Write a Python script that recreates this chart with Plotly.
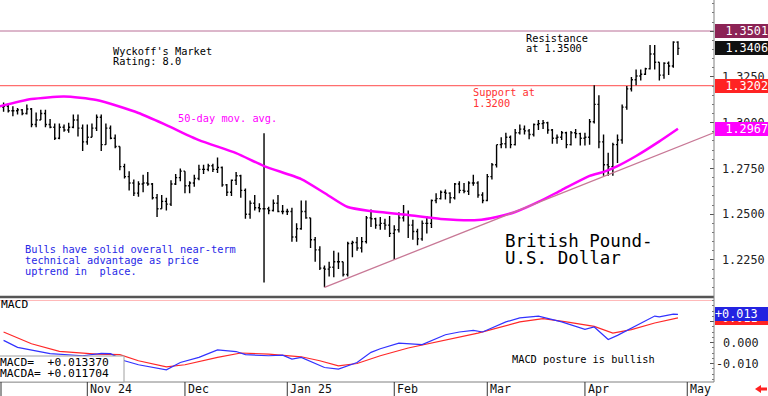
import pandas as pd
import plotly.graph_objects as go

# ---------------- data ----------------
bar_dates = [d.strftime("%Y-%m-%d") for d in pd.bdate_range("2024-10-08", "2025-04-29")]

open_ = [
    1.3085, 1.3090, 1.3065, 1.3065, 1.3070, 1.3050, 1.3075, 1.2990, 1.3015, 1.3050, 1.2990, 1.2975, 1.2915, 1.2975, 1.2960, 1.2975, 1.3015, 1.2970,
    1.2895, 1.2920, 1.2970, 1.3030, 1.2880, 1.2970, 1.2915, 1.2870, 1.2760, 1.2705, 1.2670, 1.2615, 1.2665, 1.2670, 1.2665, 1.2590, 1.2530, 1.2570, 1.2555, 1.2665, 1.2700,
    1.2735, 1.2655, 1.2670, 1.2695, 1.2745, 1.2745, 1.2765, 1.2745, 1.2755, 1.2660, 1.2620, 1.2685, 1.2710, 1.2630, 1.2500, 1.2560, 1.2535, 1.2530, 1.2530, 1.2520, 1.2560, 1.2515,
    1.2515, 1.2515, 1.2375, 1.2420, 1.2515, 1.2480, 1.2360, 1.2305, 1.2205, 1.2200, 1.2210, 1.2240, 1.2240, 1.2170, 1.2340, 1.2345, 1.2315, 1.2350, 1.2480, 1.2475, 1.2440, 1.2450, 1.2440,
    1.2395, 1.2415, 1.2480, 1.2495, 1.2440, 1.2405, 1.2365, 1.2450, 1.2450, 1.2575, 1.2585, 1.2620, 1.2615, 1.2590, 1.2665, 1.2630, 1.2625, 1.2670, 1.2670, 1.2605,
    1.2575, 1.2705, 1.2770, 1.2880, 1.2885, 1.2920, 1.2880, 1.2945, 1.2965, 1.2955, 1.2935, 1.2990, 1.2995, 1.3000, 1.2960, 1.2915, 1.2920, 1.2945, 1.2880, 1.2945, 1.2940,
    1.2915, 1.2920, 1.3005, 1.3100, 1.2895, 1.2770, 1.2760, 1.2880, 1.2905, 1.3085, 1.3185, 1.3235, 1.3255, 1.3265, 1.3295, 1.3375, 1.3330, 1.3260, 1.3325, 1.3310, 1.3440,
]
high = [
    1.3110, 1.3105, 1.3090, 1.3080, 1.3075, 1.3100, 1.3080, 1.3055, 1.3070, 1.3070, 1.3020, 1.2995, 1.2995, 1.2990, 1.3000, 1.3045, 1.3045, 1.2990,
    1.2990, 1.2995, 1.3045, 1.3045, 1.2995, 1.2985, 1.2935, 1.2870, 1.2775, 1.2735, 1.2690, 1.2680, 1.2715, 1.2730, 1.2670, 1.2610, 1.2605, 1.2590, 1.2685, 1.2720, 1.2750,
    1.2735, 1.2680, 1.2715, 1.2770, 1.2770, 1.2775, 1.2775, 1.2810, 1.2760, 1.2665, 1.2690, 1.2730, 1.2715, 1.2640, 1.2575, 1.2605, 1.2560, 1.2942, 1.2540, 1.2580, 1.2605, 1.2550,
    1.2530, 1.2535, 1.2450, 1.2575, 1.2575, 1.2480, 1.2375, 1.2325, 1.2220, 1.2240, 1.2300, 1.2290, 1.2240, 1.2350, 1.2355, 1.2375, 1.2375, 1.2490, 1.2525, 1.2480, 1.2485, 1.2475, 1.2490,
    1.2440, 1.2510, 1.2550, 1.2520, 1.2470, 1.2420, 1.2465, 1.2490, 1.2580, 1.2615, 1.2630, 1.2635, 1.2620, 1.2670, 1.2680, 1.2670, 1.2680, 1.2715, 1.2680, 1.2620,
    1.2720, 1.2780, 1.2880, 1.2920, 1.2945, 1.2930, 1.2965, 1.2990, 1.2985, 1.2965, 1.2995, 1.3015, 1.3015, 1.3005, 1.2965, 1.2935, 1.2955, 1.2950, 1.2955, 1.2965, 1.2945,
    1.2945, 1.3020, 1.3205, 1.3150, 1.2935, 1.2835, 1.2890, 1.2935, 1.3100, 1.3200, 1.3250, 1.3290, 1.3290, 1.3300, 1.3425, 1.3425, 1.3330, 1.3330, 1.3335, 1.3445, 1.3445,
]
low = [
    1.3060, 1.3055, 1.3035, 1.3045, 1.3040, 1.3045, 1.2975, 1.2975, 1.3015, 1.2975, 1.2970, 1.2905, 1.2910, 1.2950, 1.2945, 1.2970, 1.2925, 1.2845,
    1.2880, 1.2920, 1.2955, 1.2845, 1.2880, 1.2910, 1.2860, 1.2740, 1.2695, 1.2630, 1.2600, 1.2595, 1.2620, 1.2655, 1.2580, 1.2485, 1.2530, 1.2520, 1.2545, 1.2660, 1.2680,
    1.2615, 1.2615, 1.2650, 1.2685, 1.2720, 1.2735, 1.2730, 1.2725, 1.2650, 1.2600, 1.2600, 1.2660, 1.2590, 1.2475, 1.2475, 1.2520, 1.2510, 1.2127, 1.2500, 1.2515, 1.2510, 1.2500,
    1.2495, 1.2350, 1.2350, 1.2415, 1.2475, 1.2315, 1.2240, 1.2195, 1.2100, 1.2160, 1.2155, 1.2200, 1.2160, 1.2160, 1.2265, 1.2300, 1.2290, 1.2340, 1.2430, 1.2420, 1.2415, 1.2415, 1.2375,
    1.2250, 1.2400, 1.2460, 1.2370, 1.2360, 1.2330, 1.2355, 1.2395, 1.2425, 1.2560, 1.2580, 1.2580, 1.2560, 1.2580, 1.2615, 1.2615, 1.2605, 1.2655, 1.2590, 1.2560,
    1.2570, 1.2690, 1.2755, 1.2860, 1.2860, 1.2860, 1.2875, 1.2935, 1.2935, 1.2910, 1.2925, 1.2960, 1.2965, 1.2940, 1.2885, 1.2885, 1.2905, 1.2860, 1.2875, 1.2915, 1.2875,
    1.2875, 1.2880, 1.2995, 1.2860, 1.2710, 1.2710, 1.2710, 1.2780, 1.2885, 1.3070, 1.3170, 1.3205, 1.3230, 1.3260, 1.3290, 1.3290, 1.3230, 1.3240, 1.3260, 1.3300, 1.3370,
]
close = [
    1.3090, 1.3065, 1.3065, 1.3070, 1.3050, 1.3075, 1.2990, 1.3015, 1.3050, 1.2990, 1.2975, 1.2915, 1.2975, 1.2960, 1.2975, 1.3015, 1.2970, 1.2895,
    1.2920, 1.2970, 1.3030, 1.2880, 1.2970, 1.2915, 1.2870, 1.2760, 1.2705, 1.2670, 1.2615, 1.2665, 1.2670, 1.2665, 1.2590, 1.2530, 1.2570, 1.2555, 1.2665, 1.2700, 1.2735,
    1.2655, 1.2670, 1.2695, 1.2745, 1.2745, 1.2765, 1.2745, 1.2755, 1.2660, 1.2620, 1.2685, 1.2710, 1.2630, 1.2500, 1.2560, 1.2535, 1.2530, 1.2530, 1.2520, 1.2560, 1.2515, 1.2515,
    1.2515, 1.2375, 1.2420, 1.2515, 1.2480, 1.2360, 1.2305, 1.2205, 1.2200, 1.2210, 1.2240, 1.2240, 1.2170, 1.2340, 1.2345, 1.2315, 1.2350, 1.2480, 1.2475, 1.2440, 1.2450, 1.2440, 1.2395,
    1.2415, 1.2480, 1.2495, 1.2440, 1.2405, 1.2365, 1.2450, 1.2450, 1.2575, 1.2585, 1.2620, 1.2615, 1.2590, 1.2665, 1.2630, 1.2625, 1.2670, 1.2670, 1.2605, 1.2575,
    1.2705, 1.2770, 1.2880, 1.2885, 1.2920, 1.2880, 1.2945, 1.2965, 1.2955, 1.2935, 1.2990, 1.2995, 1.3000, 1.2960, 1.2915, 1.2920, 1.2945, 1.2880, 1.2945, 1.2940, 1.2915,
    1.2920, 1.3005, 1.3100, 1.2895, 1.2770, 1.2760, 1.2880, 1.2905, 1.3085, 1.3185, 1.3235, 1.3255, 1.3265, 1.3295, 1.3375, 1.3330, 1.3260, 1.3325, 1.3310, 1.3440, 1.3406,
]

ma_dates = ["2024-10-07", "2024-10-16", "2024-10-25", "2024-11-05", "2024-11-18", "2024-11-26",
            "2024-12-05", "2024-12-17", "2024-12-25", "2025-01-06", "2025-01-13", "2025-01-20",
            "2025-01-27", "2025-02-06", "2025-02-17", "2025-02-27", "2025-03-05", "2025-03-11",
            "2025-03-18", "2025-03-25", "2025-04-02", "2025-04-07", "2025-04-10", "2025-04-16",
            "2025-04-23", "2025-04-29"]
ma_values = [1.3088, 1.3129, 1.3143, 1.3124, 1.3053, 1.2987, 1.2905, 1.2834, 1.2763, 1.2692,
             1.2616, 1.2539, 1.2517, 1.2495, 1.2474, 1.2468, 1.2485, 1.2512, 1.2567, 1.2632,
             1.2709, 1.2731, 1.2763, 1.2818, 1.2898, 1.2967]

macd_dates = ["2024-10-08", "2024-10-11", "2024-10-22", "2024-10-31", "2024-11-06", "2024-11-08",
              "2024-11-13", "2024-11-18", "2024-11-26", "2024-11-29", "2024-12-05", "2024-12-11",
              "2024-12-17", "2024-12-19", "2024-12-26", "2024-12-31", "2025-01-02", "2025-01-06",
              "2025-01-13", "2025-01-16", "2025-01-22", "2025-01-27", "2025-01-29", "2025-02-04",
              "2025-02-11", "2025-02-18", "2025-02-21", "2025-02-26", "2025-02-28", "2025-03-07",
              "2025-03-12", "2025-03-18", "2025-03-25", "2025-04-01", "2025-04-03", "2025-04-08",
              "2025-04-10", "2025-04-16", "2025-04-22", "2025-04-23", "2025-04-28", "2025-04-29"]
macd_values = [0.0010, -0.0023, -0.0053, -0.0063, -0.0052, -0.0053, -0.0087, -0.0106, -0.0130,
               -0.0095, -0.0071, -0.0035, -0.0043, -0.0058, -0.0063, -0.0060, -0.0079, -0.0071,
               -0.0119, -0.0127, -0.0095, -0.0047, -0.0030, -0.0003, -0.0010, 0.0037, 0.0050,
               0.0058, 0.0050, 0.0098, 0.0117, 0.0126, 0.0098, 0.0063, 0.0074, 0.0014, 0.0034,
               0.0082, 0.0126, 0.0122, 0.0135, 0.013370]

signal_dates = ["2024-10-08", "2024-10-16", "2024-10-24", "2024-11-05", "2024-11-12", "2024-11-18",
                "2024-11-26", "2024-12-02", "2024-12-11", "2024-12-18", "2024-12-26", "2025-01-06",
                "2025-01-10", "2025-01-16", "2025-01-22", "2025-01-29", "2025-02-06", "2025-02-17",
                "2025-02-27", "2025-03-12", "2025-03-19", "2025-03-26", "2025-04-03", "2025-04-09",
                "2025-04-15", "2025-04-22", "2025-04-29"]
signal_values = [0.0050, -0.0006, -0.0042, -0.0055, -0.0058, -0.0087, -0.0116, -0.0106, -0.0071,
                 -0.0050, -0.0055, -0.0068, -0.0087, -0.0111, -0.0100, -0.0063, -0.0026, 0.0006,
                 0.0045, 0.0098, 0.0114, 0.0098, 0.0077, 0.0045, 0.0061, 0.0093, 0.011704]

trend_dates = ["2025-01-13", "2025-05-09"]
trend_values = [1.2100, 1.2948]

resistance = 1.3501
support = 1.3202
last_close = 1.3406
last_ma = 1.2967
last_macd = 0.013370
last_macda = 0.011704
macd_ref_level = 0.020

price_ticks = [1.2250, 1.2500, 1.2750, 1.3000, 1.3250, 1.3500]
price_tick_text = ["1.2250", "1.2500", "1.2750", "1.3000", "1.3250", ""]  # 1.3500 sits under its box
macd_ticks = [-0.010, 0.000, 0.010]
macd_tick_text = ["-0.010", "\u00a00.000", ""]  # 0.010 sits under the value boxes

month_starts = ["2024-11-01", "2024-12-02", "2025-01-01", "2025-02-03", "2025-03-03", "2025-04-01", "2025-05-01"]
month_text = ["Nov 24", "Dec", "Jan 25", "Feb", "Mar", "Apr", "May"]

# ---------------- helpers ----------------
calendar = pd.bdate_range("2024-10-07", "2025-05-30")
day_no = {d.strftime("%Y-%m-%d"): i for i, d in enumerate(calendar)}


def days(ds):
    return [day_no[d] for d in ds]


assert len(bar_dates) == len(open_) == len(high) == len(low) == len(close)

MONO = "DejaVu Sans Mono"
W, H = 714, 382  # plot area in px


def fx(px):
    return px / W


def fy(py):
    return (H - py) / H


def label(text, px_, py_, size=10.3, color="#000000"):
    return dict(text=text, x=fx(px_), y=fy(py_), xref="paper", yref="paper",
                xanchor="left", yanchor="middle", showarrow=False, borderpad=0, borderwidth=0,
                font=dict(family=MONO, size=size, color=color))


def value_box(text, yval, yref, bg, align="right"):
    return dict(text=text, x=1, xref="paper", xanchor="left", xshift=1, y=yval, yref=yref,
                yanchor="middle", showarrow=False, bgcolor=bg, width=53, height=14,
                align=align, borderpad=0, borderwidth=0,
                font=dict(family=MONO, size=11.8, color="white"))


fig = go.Figure()

fig.add_trace(go.Ohlc(
    x=days(bar_dates), open=open_, high=high, low=low, close=close,
    increasing=dict(line=dict(color="#000000", width=1.4)),
    decreasing=dict(line=dict(color="#000000", width=1.4)),
    tickwidth=0.32, xaxis="x", yaxis="y", showlegend=False, hoverinfo="skip"))

fig.add_trace(go.Scatter(x=days(ma_dates), y=ma_values, mode="lines",
                         line=dict(color="#FF00FF", width=2.5, shape="spline", smoothing=0.6),
                         xaxis="x", yaxis="y", showlegend=False, hoverinfo="skip"))

fig.add_trace(go.Scatter(x=days(trend_dates), y=trend_values, mode="lines",
                         line=dict(color="rgb(200,120,150)", width=1.3),
                         xaxis="x", yaxis="y", showlegend=False, hoverinfo="skip"))

fig.add_trace(go.Scatter(x=days(signal_dates), y=signal_values, mode="lines",
                         line=dict(color="rgb(255,40,40)", width=1.2),
                         xaxis="x", yaxis="y2", showlegend=False, hoverinfo="skip"))
fig.add_trace(go.Scatter(x=days(macd_dates), y=macd_values, mode="lines",
                         line=dict(color="rgb(50,50,255)", width=1.2),
                         xaxis="x", yaxis="y2", showlegend=False, hoverinfo="skip"))

split = fy(297)

shapes = [
    dict(type="line", xref="paper", yref="y", x0=0, x1=1, y0=resistance, y1=resistance,
         line=dict(color="rgb(185,110,150)", width=1), layer="below"),
    dict(type="line", xref="paper", yref="y", x0=0, x1=1, y0=support, y1=support,
         line=dict(color="rgb(255,110,110)", width=1.3), layer="below"),
    dict(type="line", xref="paper", yref="y2", x0=0, x1=1, y0=macd_ref_level, y1=macd_ref_level,
         line=dict(color="rgb(255,185,185)", width=1), layer="below"),
    dict(type="line", xref="paper", yref="paper", x0=0, x1=1, y0=split, y1=split,
         line=dict(color="#555555", width=2.5)),
    dict(type="line", xref="paper", yref="paper", x0=1, x1=1, y0=0, y1=1,
         line=dict(color="#808080", width=1)),
    dict(type="line", xref="paper", yref="paper", x0=0, x1=1, y0=0, y1=0,
         line=dict(color="#808080", width=1)),
    dict(type="rect", xref="paper", yref="paper", x0=fx(-1), x1=fx(124), y0=fy(382), y1=fy(356),
         fillcolor="white", line=dict(color="#A0A0A0", width=1), layer="above"),
    dict(type="line", xref="paper", yref="paper", x0=fx(1), x1=fx(1), y0=fy(396), y1=fy(382),
         line=dict(color="#333333", width=1)),
]
for d in month_starts:
    shapes.append(dict(type="line", xref="x", yref="paper", x0=day_no[d], x1=day_no[d],
                       y0=fy(396), y1=fy(382), line=dict(color="#333333", width=1)))

arrow_px = [(755, 389), (761, 385), (761, 387.5), (767, 387.5), (767, 390.5), (761, 390.5), (761, 393)]
path = "M " + " L ".join(f"{fx(a):.5f},{fy(b):.5f}" for a, b in arrow_px) + " Z"
shapes.append(dict(type="path", xref="paper", yref="paper", path=path,
                   fillcolor="#FF2020", line=dict(color="#FF2020", width=0)))

annotations = [
    label("Wyckoff's Market", 113, 51.5),
    label("Rating: 8.0", 113, 61.5),
    label("Resistance", 526, 38),
    label("at 1.3500", 526, 48),
    label("Support at", 473, 92.3, color="rgb(255,50,50)"),
    label("1.3200", 473, 103, color="rgb(255,50,50)"),
    label("50-day mov. avg.", 178, 118.5, color="#FF00FF"),
    label("Bulls have solid overall near-term", 25, 249.5, color="rgb(40,40,230)"),
    label("technical advantage as price", 25, 260, color="rgb(40,40,230)"),
    label("uptrend in\u00a0 place.", 25, 270.5, color="rgb(40,40,230)"),
    label("British Pound-", 505, 240.5, size=17.5),
    label("U.S. Dollar", 505, 258, size=17.5),
    label("MACD", 1, 304.5, size=11.3),
    label("MACD posture is bullish", 512, 359),
    label("MACD=\u00a0\u00a0+0.013370", 0, 362, size=11.3),
    label("MACDA=\u00a0+0.011704", 0, 373.5, size=11.3),
    value_box("1.3501", resistance, "y", "rgb(140,35,85)"),
    value_box("1.3406", last_close, "y", "#111111"),
    value_box("1.3202", support, "y", "rgb(255,35,35)"),
    value_box("1.2967", last_ma, "y", "#FF00FF"),
    value_box("+0.011", last_macda, "y2", "rgb(255,35,35)", align="left"),
    value_box("+0.013", last_macd, "y2", "rgb(35,35,225)", align="left"),
]
for d, t in zip(month_starts, month_text):
    annotations.append(dict(text=t, x=day_no[d], xref="x", xshift=2, y=fy(389), yref="paper",
                            xanchor="left", yanchor="middle", showarrow=False, borderpad=0,
                            font=dict(family=MONO, size=11.6, color="#111111")))

fig.update_layout(
    width=768, height=396,
    margin=dict(l=0, r=54, t=0, b=14, autoexpand=False),
    paper_bgcolor="white", plot_bgcolor="white",
    showlegend=False, hovermode=False,
    xaxis=dict(range=[0.23, 153.75], anchor="y2", showticklabels=False, ticks="",
               showgrid=False, zeroline=False, showline=False, rangeslider=dict(visible=False)),
    yaxis=dict(domain=[split, 1], range=[1.20474, 1.36704], side="right", anchor="x",
               tickvals=price_ticks, ticktext=price_tick_text, ticks="inside", ticklen=4,
               tickcolor="#555555",
               minor=dict(ticks="inside", ticklen=2, dtick=0.005, tick0=1.2, tickcolor="#777777"),
               showgrid=False, zeroline=False, showline=False, ticklabelstandoff=7,
               tickfont=dict(family=MONO, size=11.8, color="#222222")),
    yaxis2=dict(domain=[0, split], range=[-0.01881, 0.02167], side="right", anchor="x",
                tickvals=macd_ticks, ticktext=macd_tick_text, ticks="inside", ticklen=4,
                tickcolor="#555555",
                minor=dict(ticks="inside", ticklen=2, dtick=0.0025, tick0=0, tickcolor="#777777"),
                showgrid=False, zeroline=False, showline=False, ticklabelstandoff=1,
                tickfont=dict(family=MONO, size=11.8, color="#222222")),
    shapes=shapes,
    annotations=annotations,
)

fig.write_html("out.html", config={"displayModeBar": False, "staticPlot": True},
               post_script="document.body.style.margin='0';document.body.style.overflow='hidden';")
